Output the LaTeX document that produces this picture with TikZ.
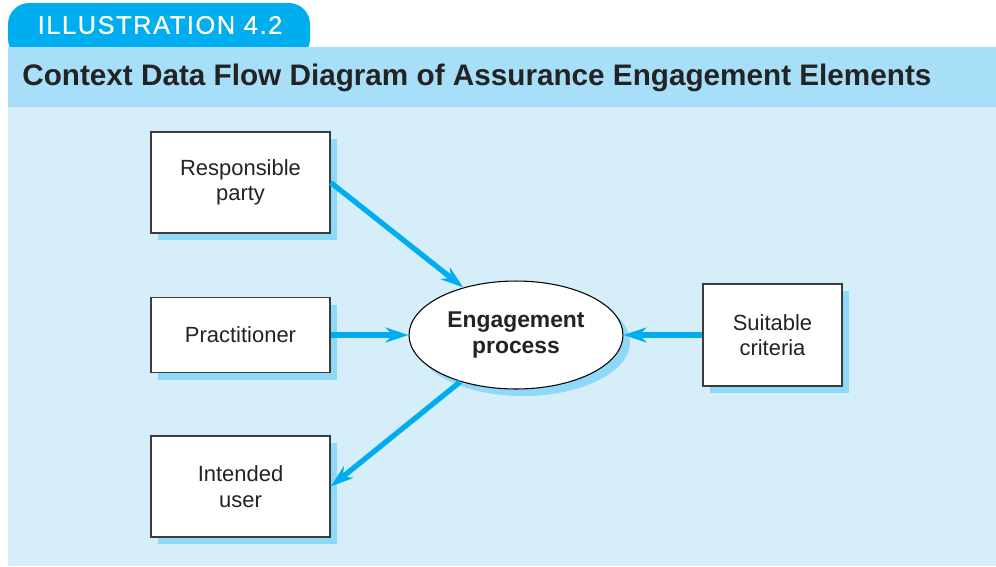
\documentclass[tikz,border=0pt]{standalone}
\usepackage{fontspec}
\setmainfont{Liberation Sans}
\usetikzlibrary{arrows.meta,shapes.geometric,shadows}
\definecolor{tabblue}{RGB}{0,174,239}
\definecolor{bandblue}{RGB}{168,223,248}
\definecolor{bodyblue}{RGB}{214,237,250}
\definecolor{shadowblue}{RGB}{142,216,248}
\definecolor{boxgray}{RGB}{60,60,60}
\definecolor{textgray}{RGB}{35,35,35}

\begin{document}
\begin{tikzpicture}[x=0.02cm,y=-0.02cm,
flow/.style={draw=tabblue,line width=3pt,-{Stealth[length=0.46cm,width=0.3cm,inset=0.15cm]}},
boxshadow/.style={drop shadow={fill=shadowblue,opacity=1,shadow xshift=0.14cm,shadow yshift=-0.14cm}}]
\tikzstyle{every node}=[text=textgray]
\tikzstyle{entity}=[rectangle,draw=boxgray,line width=0.8pt,fill=white,align=center,
    minimum width=3.58cm,font=\fontsize{12.5}{14.5}\selectfont,boxshadow]
\useasboundingbox (0,0) rectangle (996,566);
% panel
\fill[tabblue,rounded corners=12pt] (8,60) -- (8,3) -- (310,3) -- (310,60) -- cycle;
\fill[bandblue] (8,47) rectangle (996,107);
\fill[bodyblue] (8,107) rectangle (996,566);
\node[text=white,font=\fontsize{14.5}{16}\selectfont\addfontfeatures{LetterSpace=6,FakeBold=0.6}] (tab) at (160,25) {ILLUSTRATION 4.2};
\node[anchor=base west,inner sep=0pt,font=\bfseries\fontsize{16.9}{19}\selectfont] (title) at (22,85)
    {Context Data Flow Diagram of Assurance Engagement Elements};
% entities
\node[entity,minimum height=2.02cm] (resp) at (240.5,182.5) {Responsible\\party};
\node[entity,minimum height=1.5cm] (prac) at (240.5,335) {Practitioner};
\node[entity,minimum height=2.02cm] (user) at (240.5,486.5) {Intended\\user};
\node[entity,minimum height=2.04cm,minimum width=2.78cm] (crit) at (772.5,335) {Suitable\\criteria};
\node[ellipse,draw=black,line width=0.6pt,fill=white,inner sep=0pt,align=center,
    minimum width=4.28cm,minimum height=2.16cm,boxshadow,
    font=\bfseries\fontsize{13}{15.3}\selectfont] (proc) at (516,335) {Engagement\\process};
% flows
\draw[flow] (resp.east) -- (proc.138);
\draw[flow] (prac.east) -- (proc.west);
\draw[flow] (crit.west) -- (proc.east);
\draw[flow] (proc.220) -- (user.east);
\end{tikzpicture}
\end{document}
